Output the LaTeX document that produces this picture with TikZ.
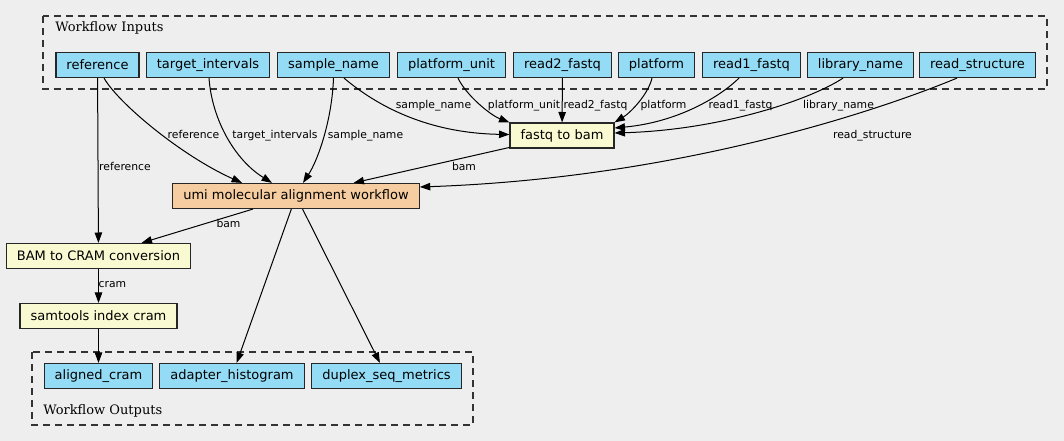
\documentclass[tikz,border=0pt]{standalone}
\usepackage{fontspec}
\usetikzlibrary{arrows.meta,calc}
\newfontfamily\nodefont{DejaVu Sans}
\newfontfamily\clusterfont{DejaVu Serif}
\definecolor{bggrey}{RGB}{238,238,238}
\definecolor{inblue}{RGB}{148,220,245}
\definecolor{toolyellow}{RGB}{250,250,210}
\definecolor{wforange}{RGB}{245,205,160}
\definecolor{edgegrey}{RGB}{51,51,51}

\begin{document}
\begin{tikzpicture}[x=0.75pt,y=0.75pt,yscale=-1,xscale=1,
  box/.style={draw=black!85, line width=0.9pt, minimum height=18.75pt, inner xsep=7.9pt, inner ysep=0pt, font={\nodefont\fontsize{9.75}{11}\selectfont}},
  inbox/.style={box, fill=inblue},
  toolbox/.style={box, fill=toolyellow},
  wfbox/.style={box, fill=wforange},
  flow/.style={draw=black, line width=0.75pt, -{Triangle[length=7.8pt,width=5.6pt]}},
  lbl/.style={anchor=base, inner sep=0pt, font={\nodefont\fontsize{8.1}{9.5}\selectfont}},
  cluster/.style={draw=edgegrey, line width=0.8pt, dash pattern=on 5.5pt off 3.5pt},
  clusterlbl/.style={anchor=base west, inner sep=0pt, font={\clusterfont\fontsize{9.75}{11}\selectfont}}]
%uncomment if require: \path (0,441); %diagram is 1064 wide and 441 high

%Shape: Background
\fill [bggrey] (0,0) rectangle (1064,441);

%Shape: Cluster Inputs
\draw [cluster] (43,16) rectangle (1047,89);
\node [clusterlbl] (inlabel) at (55,31.5) {Workflow Inputs};
%Shape: Cluster Outputs
\draw [cluster] (32,352) rectangle (473,425);
\node [clusterlbl] (outlabel) at (43,415) {Workflow Outputs};

% Input Nodes
\node [inbox] (reference) at (97.5,65) {reference};
\node [inbox] (target) at (208,65) {target\_intervals};
\node [inbox] (sample) at (333.5,65) {sample\_name};
\node [inbox] (platunit) at (451.5,65) {platform\_unit};
\node [inbox] (readtwo) at (562.5,65) {read2\_fastq};
\node [inbox] (platform) at (656.5,65) {platform};
\node [inbox] (readone) at (751.5,65) {read1\_fastq};
\node [inbox] (library) at (860.5,65) {library\_name};
\node [inbox] (structure) at (977.5,65) {read\_structure};

% Step Nodes
\node [toolbox] (fastq) at (562,135.5) {fastq to bam};
\node [wfbox] (umi) at (296,196) {umi molecular alignment workflow};
\node [toolbox] (tocram) at (98.5,256) {BAM to CRAM conversion};
\node [toolbox] (index) at (98.5,316) {samtools index cram};

% Output Nodes
\node [inbox] (alignedcram) at (98.5,376) {aligned\_cram};
\node [inbox] (adapter) at (232,376) {adapter\_histogram};
\node [inbox] (duplex) at (386.5,376) {duplex\_seq\_metrics};

%Straight Lines
\draw [flow] (reference) -- (tocram);
%Curve Lines
\draw [flow] ($(reference.south)+(6.5,0)$) .. controls (119,104) and (182,156) .. ($(umi.north)+(-54,0)$);
\draw [flow] ($(target.south)+(1,0)$) .. controls (212,120) and (235,160) .. ($(umi.north)+(-24,0)$);
\draw [flow] (sample.south) .. controls (332,120) and (318,160) .. ($(umi.north)+(7,0)$);
\draw [flow] ($(sample.south)+(10.5,0)$) .. controls (370,100) and (420,133) .. ($(fastq.west)+(0,-1)$);
\draw [flow] ($(platunit.south)+(6.5,0)$) .. controls (466,95) and (490,115) .. (fastq.north west);
\draw [flow] (readtwo) -- (fastq);
\draw [flow] ($(platform.south)+(-4.5,0)$) .. controls (648,95) and (630,113) .. (fastq.north east);
\draw [flow] ($(readone.south)+(-12.5,0)$) .. controls (722,95) and (680,122) .. ($(fastq.east)+(0,-7.5)$);
\draw [flow] ($(library.south)+(-17.5,0)$) .. controls (810,100) and (720,130) .. ($(fastq.east)+(0,-2.5)$);
\draw [flow] ($(structure.south)+(-20.5,0)$) .. controls (880,110) and (680,178) .. ($(umi.east)+(0,-9)$);
%Straight Lines
\draw [flow] (fastq) -- (umi);
\draw [flow] (umi) -- (tocram);
\draw [flow] (umi) -- (adapter);
\draw [flow] (umi) -- (duplex);
\draw [flow] (tocram) -- (index);
\draw [flow] (index) -- (alignedcram);

% Text Node
\node [lbl] (lrefcram) at (125,171) {reference};
\node [lbl] (lrefumi) at (193.5,138.5) {reference};
\node [lbl] (ltarget) at (275,138.5) {target\_intervals};
\node [lbl] (lsampleumi) at (365.5,138.5) {sample\_name};
\node [lbl] (lsamplefq) at (433.5,108.5) {sample\_name};
\node [lbl] (lplatunit) at (524,108.5) {platform\_unit};
\node [lbl] (lreadtwo) at (595.5,108.5) {read2\_fastq};
\node [lbl] (lplatform) at (663.5,108.5) {platform};
\node [lbl] (lreadone) at (740.5,108.5) {read1\_fastq};
\node [lbl] (llibrary) at (838.5,108.5) {library\_name};
\node [lbl] (lstructure) at (872.5,138.5) {read\_structure};
\node [lbl] (lbamfq) at (464,171) {bam};
\node [lbl] (lbamumi) at (228.5,228) {bam};
\node [lbl] (lcram) at (112.5,288) {cram};

\end{tikzpicture}
\end{document}
